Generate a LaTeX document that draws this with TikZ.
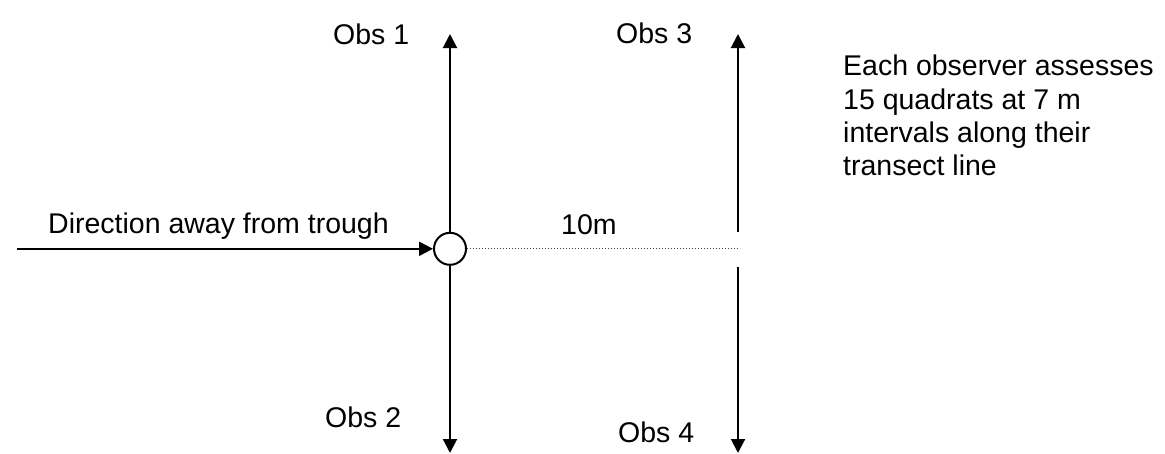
\documentclass[tikz,border=0pt]{standalone}
\usepackage{fontspec}
\setmainfont{Liberation Sans}
\usetikzlibrary{arrows.meta}
\begin{document}
\begin{tikzpicture}[x=1pt,y=-1pt,
  lbl/.style={inner sep=0pt,anchor=base west,font=\fontsize{28.5}{33.5}\selectfont},
  ln/.style={line width=2pt},
  tip/.style={-{Triangle[length=14pt,width=14pt]}},
  dotline/.style={line width=1.3pt,draw=black!75,dash pattern=on 1.2pt off 1.8pt}]
\useasboundingbox (0,0) rectangle (1165,453);
% centre marker
\node[draw,circle,line width=2pt,minimum size=32pt,inner sep=0pt] (c) at (450,248.8) {};
% coordinates
\coordinate (start) at (17,248.8);
\coordinate (t1) at (450,34);
\coordinate (b1) at (450,453);
\coordinate (t3) at (738,34);
\coordinate (m3a) at (738,232);
\coordinate (m3b) at (738,267);
\coordinate (b3) at (738,453);
\coordinate (d3) at (740,248.8);
% connectors
\draw[ln,tip] (start) -- (c.west);
\draw[ln,tip] (c.north) -- (t1);
\draw[ln,tip] (c.south) -- (b1);
\draw[ln,tip] (m3a) -- (t3);
\draw[ln,tip] (m3b) -- (b3);
\draw[dotline] (c.east) -- (d3);
% labels
\node[lbl] (o1) at (333,44) {Obs 1};
\node[lbl] (o2) at (325,427) {Obs 2};
\node[lbl] (o3) at (616,43) {Obs 3};
\node[lbl] (o4) at (618,442) {Obs 4};
\node[lbl] (dir) at (48,233) {Direction away from trough};
\node[lbl] (ten) at (561,234) {10m};
\node[lbl] (n1) at (843,75) {Each observer assesses};
\node[lbl] (n2) at (843,109) {15 quadrats at 7 m};
\node[lbl] (n3) at (843,142) {intervals along their};
\node[lbl] (n4) at (843,175) {transect line};
\end{tikzpicture}
\end{document}
